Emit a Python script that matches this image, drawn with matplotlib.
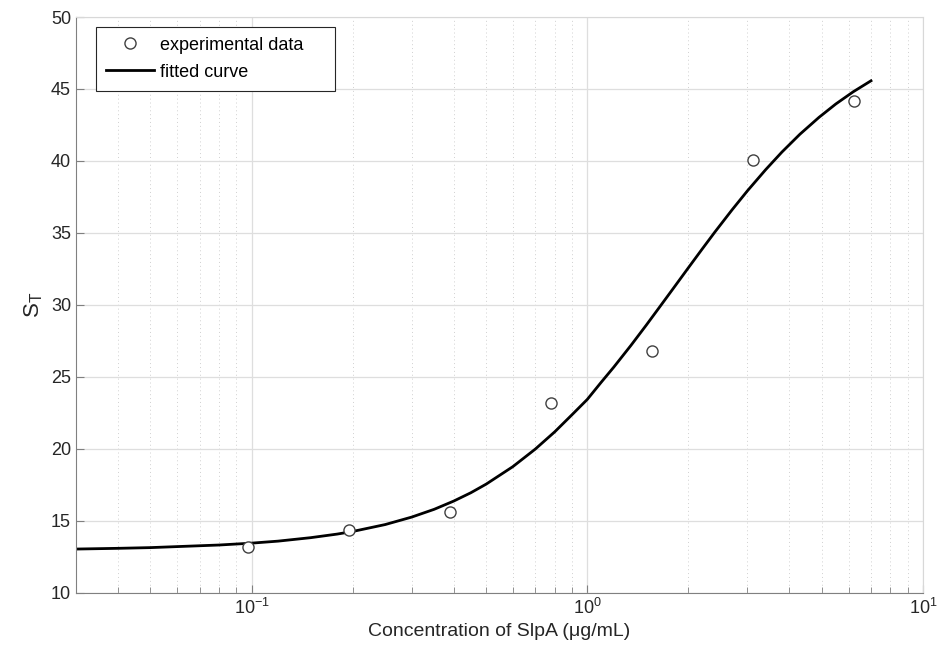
import matplotlib.pyplot as plt
from matplotlib.ticker import LogLocator, FixedLocator, NullFormatter

plt.rcParams['font.family'] = ['Liberation Sans', 'DejaVu Sans']
plt.rcParams['mathtext.fontset'] = 'custom'
plt.rcParams['mathtext.rm'] = 'Liberation Sans'
plt.rcParams['mathtext.it'] = 'Liberation Sans'

# measured points
conc = [0.0977, 0.1953, 0.3906, 0.7813, 1.5625, 3.125, 6.25]
st = [13.2, 14.4, 15.6, 23.2, 26.8, 40.1, 44.2]

# fitted curve
fit_x = [0.03, 0.04, 0.05, 0.06, 0.08, 0.1, 0.12, 0.15, 0.18, 0.2, 0.25, 0.3,
         0.35, 0.4, 0.45, 0.5, 0.6, 0.7, 0.8, 0.9, 1.0, 1.1, 1.2, 1.35, 1.5,
         1.65, 1.8, 2.0, 2.2, 2.4, 2.7, 3.0, 3.4, 3.8, 4.3, 4.9, 5.5, 6.2, 7.0]
fit_y = [13.05, 13.1, 13.15, 13.22, 13.33, 13.46, 13.6, 13.84, 14.09, 14.27, 14.75, 15.27,
         15.81, 16.38, 16.96, 17.56, 18.77, 19.99, 21.19, 22.37, 23.44, 24.63, 25.69, 27.2, 28.61,
         29.92, 31.12, 32.58, 33.89, 35.07, 36.61, 37.93, 39.4, 40.62, 41.86, 43.03, 43.96, 44.81, 45.57]

fig = plt.figure(figsize=(9.38, 6.59), dpi=100)
ax = fig.add_axes([0.081, 0.1002, 0.903, 0.8740])

ax.plot(conc, st, 'o', mfc='white', mec='#404040', ms=8, mew=1.0,
        label='experimental data', zorder=3)
ax.plot(fit_x, fit_y, '-', color='black', lw=2, label='fitted curve', zorder=2)

ax.set_xscale('log')
ax.set_xlim(0.03, 10)
ax.set_ylim(10, 50)
ax.set_yticks(range(10, 51, 5))
ax.xaxis.set_major_locator(FixedLocator([0.1, 1, 10]))
ax.xaxis.set_minor_locator(LogLocator(base=10, subs=range(2, 10)))
ax.xaxis.set_minor_formatter(NullFormatter())
ax.set_xticklabels(['$10^{-1}$', '$10^{0}$', '$10^{1}$'])

ax.grid(True, which='major', color='#dedede', lw=0.9, ls='-')
ax.grid(True, which='minor', axis='x', color='#d0d0d0', lw=0.7, ls=(0, (1, 3)))
ax.set_axisbelow(True)

ax.tick_params(which='both', direction='in', colors='#262626', labelsize=13,
               top=False, right=False)
ax.tick_params(which='major', length=6, color='#808080')
ax.tick_params(which='minor', length=4, color='#808080')
for s in ['left', 'bottom']:
    ax.spines[s].set_color('#808080')
for s in ['top', 'right']:
    ax.spines[s].set_color('#d8d8d8')

ax.set_xlabel('Concentration of SlpA (μg/mL)', fontsize=14, color='#262626')
ax.set_ylabel('S$_\\mathrm{T}$', fontsize=16, color='#262626')

leg = ax.legend(loc='upper left', bbox_to_anchor=(0.024, 0.0, 0.282, 0.983),
                mode='expand', fontsize=13,
                fancybox=False, framealpha=1, edgecolor='#262626',
                handlelength=2.65, handletextpad=0.3, borderpad=0.55,
                labelspacing=0.55, borderaxespad=0)
leg.get_frame().set_linewidth(0.8)

fig.savefig('out.png', dpi=100)
